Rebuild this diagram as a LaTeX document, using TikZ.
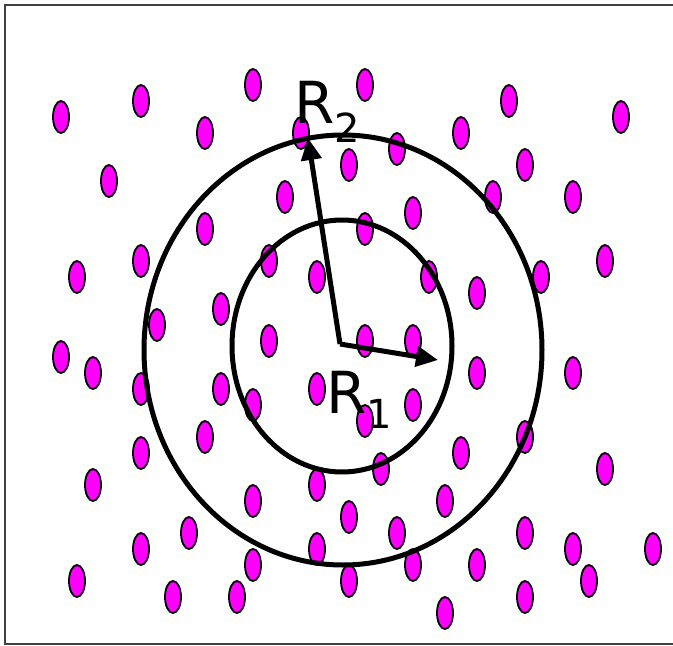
\documentclass[tikz,border=0pt]{standalone}
\usepackage{fontspec}
\setmainfont{DejaVu Sans}
\usetikzlibrary{arrows.meta}
\definecolor{dotmag}{RGB}{255,0,255}
\tikzset{
  dot/.style={draw=black, fill=dotmag, line width=1.8pt},
  ring/.style={draw=black, line width=5pt},
  radius arrow/.style={draw=black, line width=5pt, -{Triangle[length=22pt,width=20pt]}},
  frame/.style={draw=black!75, line width=2pt},
  lbl/.style={inner sep=0pt, anchor=base west, font=\fontsize{58}{58}\selectfont}
}
\begin{document}
\begin{tikzpicture}[x=1pt,y=-1pt]
\useasboundingbox (0,0) rectangle (673,646);
\fill[white] (0,0) rectangle (673,646);
\draw[frame] (680,5) -- (5,5) -- (5,644) -- (680,644);
\foreach \x/\y in {
 61/117,141/101,205/133,253/85,301/133,365/85,397/149,461/133,509/101,621/117,
 109/181,349/165,525/165,493/197,573/197,285/197,205/229,365/229,413/213,
 77/277,141/261,269/261,317/277,429/277,477/293,541/277,605/261,
 157/325,221/309,269/341,365/341,413/341,
 61/357,93/373,141/389,221/389,317/389,477/373,573/373,
 253/405,365/421,413/405,205/437,141/453,461/453,525/437,
 93/485,253/501,317/485,381/469,445/501,605/469,
 189/533,349/517,397/533,525/533,141/549,317/549,573/549,653/549,
 253/565,413/565,477/565,77/581,173/597,237/597,349/581,525/597,589/581,445/613}
  \draw[dot] (\x,\y) ellipse (8 and 16);
\draw[ring] (343,350) ellipse (199 and 215);
\draw[ring] (342,346) ellipse (110 and 126);
\coordinate (c) at (340,344);
\coordinate (t1) at (438,360);
\coordinate (t2) at (308,138);
\draw[radius arrow] (c) -- (t1);
\draw[radius arrow] (c) -- (t2);
\node[lbl] (r2) at (294,123) {R\raisebox{-19pt}{\fontsize{40}{40}\selectfont 2}};
\node[lbl] (r1) at (326,413) {R\raisebox{-15pt}{\fontsize{40}{40}\selectfont 1}};
\end{tikzpicture}
\end{document}
